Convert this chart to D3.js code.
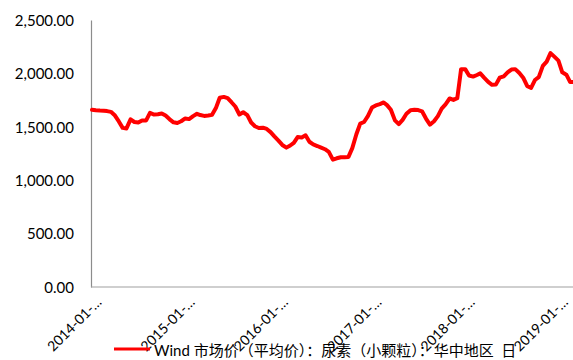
<!DOCTYPE html>
<html>
<head>
<meta charset="utf-8">
<script src="https://cdn.jsdelivr.net/npm/d3@7"></script>
<style>
  html, body { margin: 0; padding: 0; background: #fff; }
  svg { display: block; }
</style>
</head>
<body>
<div id="chart"></div>
<script>
// Urea (small granule) market price, Central China — semi-monthly readings
const seriesName = "Wind 市场价（平均价）：尿素（小颗粒）：华中地区  日";
const startYear = 2014;
const prices = [
  1660, 1655, 1652, 1650, 1647, 1640, 1605, 1550, 1490, 1485,
  1570, 1545, 1540, 1560, 1560, 1630, 1615, 1618, 1625, 1605,
  1570, 1542, 1536, 1552, 1578, 1572, 1600, 1622, 1610, 1602,
  1605, 1612, 1675, 1772, 1780, 1768, 1730, 1690, 1615, 1636,
  1610, 1540, 1505, 1489, 1492, 1480, 1450, 1410, 1370, 1330,
  1305, 1325, 1350, 1404, 1400, 1420, 1360, 1335, 1320, 1305,
  1290, 1265, 1192, 1205, 1215, 1216, 1218, 1300, 1430, 1530,
  1545, 1600, 1680, 1700, 1712, 1728, 1703, 1660, 1560, 1525,
  1565, 1622, 1656, 1660, 1657, 1645, 1575, 1520, 1552, 1600,
  1670, 1710, 1765, 1752, 1768, 2040, 2040, 1980, 1970, 1985,
  2000, 1960, 1920, 1893, 1895, 1960, 1973, 2010, 2036, 2040,
  2004, 1960, 1880, 1865, 1938, 1965, 2070, 2110, 2190, 2157,
  2120, 2010, 1988, 1919, 1920
];
// observation dates: the 1st and 16th of each month
const dates = prices.map((_, i) => new Date(startYear, Math.floor(i / 2), i % 2 ? 16 : 1));
const yTicks = [0, 500, 1000, 1500, 2000, 2500];
const xTickYears = [2014, 2015, 2016, 2017, 2018, 2019];
const xTickLabels = ["2014-01-…", "2015-01-…", "2016-01-…", "2017-01-…", "2018-01-…", "2019-01-…"];

const W = 573, H = 360;
const plot = { left: 92, right: 573.5, top: 20, bottom: 287 };

const svg = d3.select("#chart").append("svg")
  .attr("width", W).attr("height", H)
  .attr("viewBox", `0 0 ${W} ${H}`);

const x = d3.scaleTime()
  .domain([dates[0], dates[dates.length - 1]])
  .range([plot.left, plot.right]);

const y = d3.scaleLinear()
  .domain([0, 2500])
  .range([plot.bottom, plot.top]);

const latin = "Lato, 'Noto Sans CJK SC', sans-serif";

// y axis
const yAxis = svg.append("g")
  .attr("transform", `translate(${plot.left - 1},0)`)
  .call(d3.axisLeft(y).tickValues(yTicks).tickFormat(d3.format(",.2f"))
    .tickSize(0).tickPadding(17));
yAxis.select(".domain").attr("stroke", "#8c8c8c").attr("stroke-width", 1.2);
yAxis.selectAll("text")
  .attr("font-family", latin).attr("font-size", 15).attr("fill", "#000")
  .attr("dy", "0.35em");

// x axis
const xAxis = svg.append("g")
  .attr("transform", `translate(0,${plot.bottom})`)
  .call(d3.axisBottom(x)
    .tickValues(xTickYears.map(yr => new Date(yr, 0, 1)))
    .tickFormat((d, i) => xTickLabels[i])
    .tickSize(0).tickSizeOuter(0));
xAxis.select(".domain")
  .attr("d", `M${plot.left - 1},0H${W}`)
  .attr("stroke", "#a0a0a0").attr("stroke-width", 1.2);
xAxis.selectAll("text")
  .attr("font-family", latin).attr("font-size", 14).attr("fill", "#000")
  .attr("text-anchor", "end")
  .attr("x", 0).attr("y", 0).attr("dy", 0)
  .attr("transform", "translate(10,16) rotate(-45)");

// price line
const line = d3.line()
  .x((d, i) => x(dates[i]))
  .y(d => y(d));

svg.append("path")
  .datum(prices)
  .attr("d", line)
  .attr("fill", "none")
  .attr("stroke", "#ff0000")
  .attr("stroke-width", 4)
  .attr("stroke-linejoin", "round")
  .attr("stroke-linecap", "round");

// legend
const legend = svg.append("g").attr("transform", "translate(114,349)");
legend.append("line")
  .attr("x1", 0).attr("x2", 36).attr("y1", 0).attr("y2", 0)
  .attr("stroke", "#ff0000").attr("stroke-width", 3);
legend.append("text")
  .attr("x", 40).attr("y", 7)
  .style("white-space", "pre")
  .attr("font-family", latin).attr("font-size", 15).attr("fill", "#000")
  .text(seriesName);
</script>
</body>
</html>
